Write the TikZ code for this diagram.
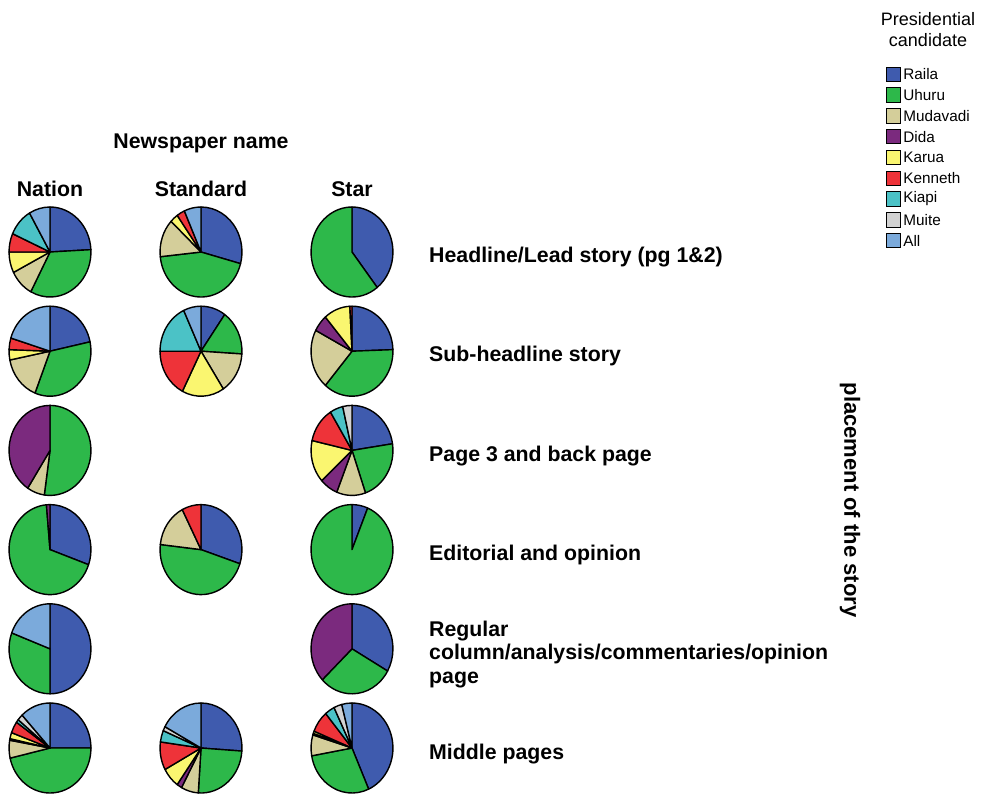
\documentclass[tikz,border=0pt]{standalone}
\usepackage{fontspec}
\setmainfont{Liberation Sans}
\definecolor{raila}{RGB}{63,91,174}
\definecolor{uhuru}{RGB}{45,184,74}
\definecolor{muda}{RGB}{212,206,154}
\definecolor{dida}{RGB}{123,42,126}
\definecolor{karua}{RGB}{250,246,112}
\definecolor{kenneth}{RGB}{238,51,57}
\definecolor{kiapi}{RGB}{75,194,198}
\definecolor{muite}{RGB}{210,210,210}
\definecolor{allc}{RGB}{123,170,219}
% pie at (x,y), slices given as end angle/colour, clockwise from the top
\newcommand{\pie}[3]{%
  \begin{scope}[shift={(#1,#2)},xscale=0.91]
  \foreach \e/\c [remember=\e as \s (initially 0)] in {#3}
    \filldraw[slice,fill=\c] (0,0) -- (\s-90:45) arc[start angle=\s-90,end angle=\e-90,radius=45] -- cycle;
  \end{scope}}

\begin{document}
\begin{tikzpicture}[x=1pt,y=-1pt]
\tikzstyle{slice}=[draw=black,line width=1.4pt,line join=round]
\tikzstyle{lbl}=[font=\bfseries\fontsize{21.3}{23.3}\selectfont,inner sep=0pt]
\tikzstyle{key}=[draw=black,line width=0.9pt,minimum width=14pt,minimum height=14.5pt,inner sep=0pt]
\tikzstyle{keytext}=[font=\fontsize{15.3}{17}\selectfont,anchor=west,inner sep=2pt]
\useasboundingbox (0,0) rectangle (982,793);
% headers
\node[lbl,anchor=base] (paper) at (201,148) {Newspaper name};
\node[lbl,anchor=base] (nation) at (50,196) {Nation};
\node[lbl,anchor=base] (standard) at (201,196) {Standard};
\node[lbl,anchor=base] (star) at (352,196) {Star};
% rows
\node[lbl,anchor=base west] (lead) at (429,262) {Headline/Lead story (pg 1\&2)};
\node[lbl,anchor=base west] (sub) at (429,361.5) {Sub-headline story};
\node[lbl,anchor=base west] (back) at (429,461) {Page 3 and back page};
\node[lbl,anchor=base west] (edit) at (429,560.5) {Editorial and opinion};
\node[lbl,anchor=west,align=left] (column) at (429,654.5) {Regular\\column/analysis/commentaries/opinion\\page};
\node[lbl,anchor=base west] (middle) at (429,759) {Middle pages};
\node[lbl,rotate=-90,font=\bfseries\fontsize{22}{24}\selectfont] (place) at (850,500) {placement of the story};
% pies
\pie{50}{252}{87/raila,208/uhuru,243/muda,270/karua,294/kenneth,330/kiapi,360/allc}
\pie{201}{252}{105/raila,264/uhuru,313/muda,324.5/karua,336/kenneth,360/allc}
\pie{352}{252}{142/raila,360/uhuru}
\pie{50}{351.2}{78/raila,201.5/uhuru,258.7/muda,272/karua,287/kenneth,360/allc}
\pie{201}{351.2}{35.4/raila,93.5/uhuru,147/muda,207/karua,270/kenneth,335/kiapi,360/allc}
\pie{352}{351.2}{88/raila,220.6/uhuru,297.6/muda,319.4/dida,357/karua,360/kenneth}
\pie{50}{450.4}{188/uhuru,213/muda,360/dida}
\pie{352}{450.4}{81.5/raila,160.8/uhuru,201.9/muda,227.7/dida,282.7/karua,328.3/kenneth,346.9/kiapi,360/muite}
\pie{50}{549.6}{109.6/raila,355/uhuru,360/dida}
\pie{201}{549.6}{108.3/raila,276.5/uhuru,332.8/muda,360/kenneth}
\pie{352}{549.6}{22.5/raila,360/uhuru}
\pie{50}{648.8}{180/raila,290.7/uhuru,360/allc}
\pie{352}{648.8}{119.6/raila,226.5/uhuru,360/dida}
\pie{50}{748}{90/raila,257/uhuru,280/muda,282/dida,290/karua,305/kenneth,309/kiapi,317/muite,360/allc}
\pie{201}{748}{93.9/raila,183.8/uhuru,208.4/muda,215.6/dida,241.5/karua,277.8/kenneth,292.7/kiapi,298.3/muite,360/allc}
\pie{352}{748}{156/raila,260/uhuru,287/muda,289/dida,292/karua,320/kenneth,334/kiapi,345.5/muite,360/allc}
% legend
\node[font=\fontsize{18}{21}\selectfont,align=center,inner sep=0pt] (title) at (928,29.6) {Presidential\\candidate};
\foreach \n/\c [count=\i] in {Raila/raila,Uhuru/uhuru,Mudavadi/muda,Dida/dida,Karua/karua,Kenneth/kenneth,Kiapi/kiapi,Muite/muite,All/allc}
{
  \node[key,fill=\c] (k\i) at (893.7,{74.2+20.8*(\i-1)}) {};
  \node[keytext] (t\i) at (k\i.east) {\n};
}
\end{tikzpicture}
\end{document}
